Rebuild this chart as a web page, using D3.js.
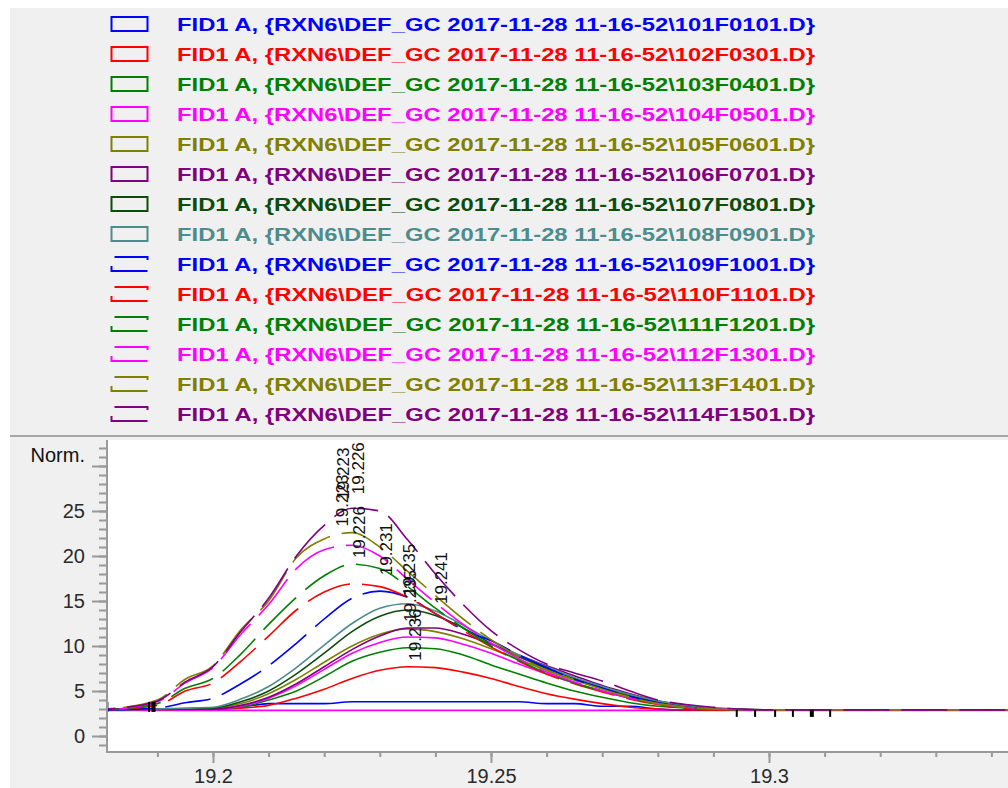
<!DOCTYPE html>
<html><head><meta charset="utf-8">
<script src="https://cdn.jsdelivr.net/npm/d3@7"></script>
<style>
html,body{margin:0;padding:0;background:#fff;}
svg{display:block;}
text{font-family:"Liberation Sans",Arial,sans-serif;}
</style></head><body>
<svg id="chart" width="1008" height="788"></svg>
<script>
// ---------- data ----------
const times = [19.181,19.19,19.195,19.2,19.205,19.21,19.215,19.22,19.225,19.23,19.235,19.24,19.245,19.25,19.255,19.26,19.265,19.27,19.275,19.28,19.285,19.29,19.3,19.343];

const fileNames = ["101F0101","102F0301","103F0401","104F0501","105F0601","106F0701","107F0801","108F0901","109F1001","110F1101","111F1201","112F1301","113F1401","114F1501"];
const seriesColors = ["#0000ff","#ff0000","#008000","#ff00ff","#808000","#800080","#0b4d0b","#4d8c8c","#0000ff","#ff0000","#008000","#ff00ff","#808000","#800080"];
const seriesDashed = [false,false,false,false,false,false,false,false,true,true,true,true,true,true];

const s01 = [3.0,3.0,3.0,3.0,3.2,3.6,3.6,3.6,3.8,3.8,3.8,3.8,3.8,3.8,3.8,3.6,3.6,3.3,3.3,3.0,2.9,2.9,2.9,2.9];
const s02 = [2.9,2.9,3.0,3.0,3.1,3.4,4.2,5.2,6.4,7.3,7.7,7.6,7.1,6.4,5.5,4.7,4.1,3.6,3.2,3.0,2.9,2.9,2.9,2.9];
const s03 = [2.9,2.9,3.0,3.0,3.2,4.0,5.0,6.6,8.3,9.3,9.8,9.7,9.0,7.9,6.9,5.9,5.0,4.3,3.7,3.3,3.1,2.9,2.9,2.9];
const s04 = [2.9,2.9,3.0,3.0,3.3,4.2,5.6,7.4,9.2,10.4,11.0,10.9,10.2,9.2,8.0,6.9,5.9,5.0,4.2,3.6,3.2,3.0,2.9,2.9];
const s05 = [2.9,3.0,3.0,3.1,3.6,4.7,6.3,8.2,10.0,11.3,11.9,11.6,10.8,9.7,8.5,7.3,6.2,5.3,4.4,3.7,3.3,3.0,2.9,2.9];
const s06 = [2.9,3.0,3.0,3.0,3.4,4.3,5.8,7.7,9.6,11.1,12.0,12.0,11.3,10.2,9.0,7.8,6.7,5.6,4.7,3.9,3.4,3.1,2.9,2.9];
const s07 = [2.9,3.0,3.0,3.1,3.8,5.0,6.9,9.2,11.6,13.3,14.0,13.4,12.0,10.3,8.8,7.5,6.4,5.4,4.5,3.8,3.3,3.0,2.9,2.9];
const s08 = [2.9,3.0,3.1,3.2,4.1,5.5,7.6,10.1,12.5,14.2,14.7,13.9,12.3,10.6,9.0,7.7,6.5,5.5,4.6,3.9,3.4,3.1,2.9,2.9];
const s09 = [2.9,3.1,3.7,4.2,5.8,7.8,10.3,13.0,15.3,16.1,15.4,13.6,11.8,10.6,9.0,7.6,6.3,5.3,4.4,3.7,3.2,3.0,2.9,2.9];
const s10 = [2.9,3.4,5.0,5.9,8.3,11.1,14.0,16.0,16.9,16.6,15.4,13.6,11.7,9.9,8.3,6.9,5.8,4.9,4.1,3.5,3.1,2.9,2.9,2.9];
const s11 = [2.9,3.6,5.3,6.4,9.1,12.4,15.4,17.8,19.1,18.6,16.6,14.2,12.0,10.0,8.4,7.0,5.9,5.0,4.2,3.6,3.2,3.0,2.9,2.9];
const s12 = [2.9,3.8,5.9,7.6,11.3,14.6,18.6,20.7,21.2,20.0,17.4,14.8,12.4,10.3,8.6,7.1,6.0,5.0,4.2,3.6,3.2,3.0,2.9,2.9];
const s13 = [3.0,4.0,6.3,7.8,11.8,15.0,19.8,21.9,22.6,21.0,18.3,15.6,13.0,10.7,8.8,7.3,6.2,5.2,4.3,3.6,3.2,3.0,2.9,2.9];
const s14 = [3.0,3.9,6.0,7.7,11.6,15.3,20.0,23.4,25.3,25.0,21.8,18.0,14.6,11.7,9.6,8.0,7.0,6.1,5.0,4.0,3.5,3.2,2.9,2.9];
const seriesValues = [s01,s02,s03,s04,s05,s06,s07,s08,s09,s10,s11,s12,s13,s14];

const baselineTimes = [19.181, 19.343];
const baselineValues = [2.85, 2.85];

const eventTimes = [19.181,19.1885,19.1893,19.2942,19.2975,19.3011,19.3043,19.3077,19.311];

const peakLabelTimes  = [19.2234,19.2260,19.2232,19.2262,19.2311,19.2352,19.2355,19.2363,19.2410];
const peakLabelValues = [25.6,26.2,22.6,19.1,17.2,14.9,12.0,7.7,14.0];
const peakLabelTexts  = ["19.223","19.226","19.223","19.226","19.231","19.235","19.235","19.236","19.241"];

const yMajorTicks = [0,5,10,15,20,25,30];
const yMajorLabels = ["0","5","10","15","20","25",""];
const yMinorTicks = d3.range(-1,33,1);
const xMajorTicks = [19.2,19.25,19.3];
const xMajorLabels = ["19.2","19.25","19.3"];
const xMinorTicks = [19.19,19.2,19.21,19.22,19.23,19.24,19.25,19.26,19.27,19.28,19.29,19.3,19.31,19.32,19.33,19.34];

// ---------- layout ----------
const svg = d3.select("#chart");
const W = 1008, H = 788;
const plotL = 107, plotR = 1008, plotT = 440, plotB = 752;

const x = d3.scaleLinear().domain([19.2,19.3]).range([213,769]);
const y = d3.scaleLinear().domain([0,25]).range([736,511]);

// panels
svg.append("rect").attr("x",10).attr("y",8).attr("width",W-10).attr("height",H-8).attr("fill","#f0f0f0");
svg.append("line").attr("x1",10).attr("x2",W).attr("y1",436).attr("y2",436).attr("stroke","#a6a6a6").attr("stroke-width",2);
svg.append("rect").attr("x",plotL).attr("y",plotT).attr("width",plotR-plotL).attr("height",plotB-plotT).attr("fill","#fff");

// legend
const leg = svg.append("g");
fileNames.forEach((f,i)=>{
  const base = 31 + 30*i;
  const r = leg.append("rect").attr("x",111.5).attr("y",base-14).attr("width",36).attr("height",14)
    .attr("fill","none").attr("stroke",seriesColors[i]).attr("stroke-width",2);
  if (seriesDashed[i]) r.attr("stroke-dasharray","36 11 41 12").attr("stroke-dashoffset",-3);
  leg.append("text").attr("x",177).attr("y",base)
    .attr("font-size",19).attr("font-weight","bold").attr("fill",seriesColors[i])
    .attr("textLength",638).attr("lengthAdjust","spacingAndGlyphs")
    .text(`FID1 A, {RXN6\\DEF_GC 2017-11-28 11-16-52\\${f}.D}`);
});

// clip
svg.append("clipPath").attr("id","clip").append("rect")
  .attr("x",plotL).attr("y",plotT).attr("width",plotR-plotL).attr("height",plotB-plotT);
const plot = svg.append("g").attr("clip-path","url(#clip)");

// baseline
const lineGen = d3.line().x(d=>x(d[0])).y(d=>y(d[1])).curve(d3.curveMonotoneX);
plot.append("path").attr("d",lineGen(baselineTimes.map((t,i)=>[t,baselineValues[i]])))
  .attr("fill","none").attr("stroke","#ff00ff").attr("stroke-width",1.6);

// traces
seriesValues.forEach((vals,i)=>{
  const p = plot.append("path").attr("d",lineGen(times.map((t,k)=>[t,vals[k]])))
    .attr("fill","none").attr("stroke",seriesColors[i]).attr("stroke-width",1.6);
  if (seriesDashed[i]) p.attr("stroke-dasharray","46 12").attr("stroke-dashoffset",-4*(i-8));
});

// event markers
eventTimes.forEach((t,i)=>{
  plot.append("line").attr("x1",x(t)).attr("x2",x(t))
    .attr("y1",y(2.9)-(i<3?8:0)).attr("y2",y(2.9)+(i<3?2:7))
    .attr("stroke","#000").attr("stroke-width",(i===2||i===7)?4:2);
});

// peak labels
peakLabelTimes.forEach((t,i)=>{
  svg.append("text")
    .attr("transform",`translate(${x(t)},${y(peakLabelValues[i])-6}) rotate(-90)`)
    .attr("dy","0.35em").attr("font-size",17).attr("fill","#111")
    .text(peakLabelTexts[i]);
});

// axes
const axisColor = "#999";
const yMinor = svg.append("g").attr("transform",`translate(${plotL},0)`)
  .call(d3.axisLeft(y).tickValues(yMinorTicks).tickSize(8).tickFormat(""));
const yMajor = svg.append("g").attr("transform",`translate(${plotL},0)`)
  .call(d3.axisLeft(y).tickValues(yMajorTicks).tickSize(15).tickPadding(7)
    .tickFormat((d,i)=>yMajorLabels[i]));
const xMinor = svg.append("g").attr("transform",`translate(0,${plotB})`)
  .call(d3.axisBottom(x).tickValues(xMinorTicks).tickSize(5).tickFormat(""));
const xMajor = svg.append("g").attr("transform",`translate(0,${plotB})`)
  .call(d3.axisBottom(x).tickValues(xMajorTicks).tickSize(11).tickPadding(6)
    .tickFormat((d,i)=>xMajorLabels[i]));
[yMinor,yMajor,xMinor,xMajor].forEach(g=>{
  g.select(".domain").remove();
  g.selectAll(".tick line").attr("stroke",axisColor).attr("stroke-width",2);
  g.selectAll("text").attr("font-size",20).attr("fill","#2a2a2a")
    .attr("font-family","'Liberation Sans',Arial,sans-serif");
});
svg.append("line").attr("x1",plotL).attr("x2",plotL).attr("y1",plotT).attr("y2",plotB+1)
  .attr("stroke",axisColor).attr("stroke-width",2);
svg.append("line").attr("x1",plotL-1).attr("x2",plotR).attr("y1",plotB).attr("y2",plotB)
  .attr("stroke",axisColor).attr("stroke-width",2);
svg.append("text").attr("x",85).attr("y",462).attr("text-anchor","end")
  .attr("font-size",20).attr("fill","#111").text("Norm.");
</script>
</body></html>
